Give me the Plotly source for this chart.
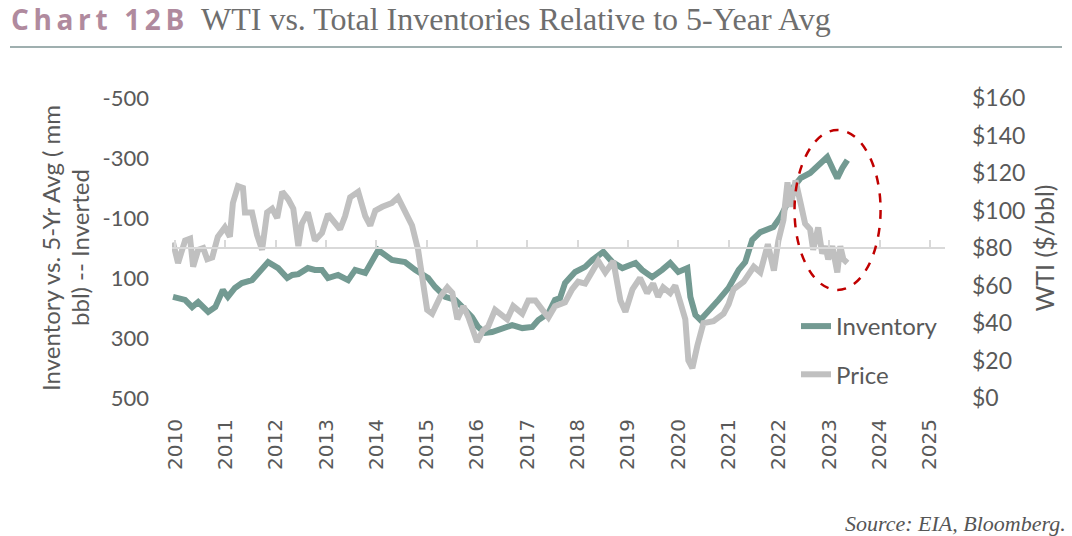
import plotly.graph_objects as go

# ---- data (decimal years) ----
inv_year = [2009.96, 2010.2, 2010.34, 2010.46, 2010.66, 2010.8, 2010.95, 2011.05, 2011.19, 2011.33,
            2011.53, 2011.73, 2011.85, 2012.05, 2012.23, 2012.33, 2012.45, 2012.64, 2012.78, 2012.92,
            2013.04, 2013.24, 2013.44, 2013.58, 2013.78, 2014.04, 2014.17, 2014.31, 2014.57, 2014.77,
            2015.03, 2015.17, 2015.37, 2015.57, 2015.71, 2015.9, 2016.02, 2016.16, 2016.3, 2016.5,
            2016.7, 2016.9, 2017.1, 2017.22, 2017.42, 2017.55, 2017.65, 2017.75, 2017.95, 2018.15,
            2018.29, 2018.51, 2018.69, 2018.89, 2019.15, 2019.28, 2019.48, 2019.68, 2019.84, 2020.0,
            2020.18, 2020.24, 2020.34, 2020.44, 2020.6, 2020.8, 2021.0, 2021.2, 2021.33, 2021.47,
            2021.63, 2021.89, 2022.03, 2022.17, 2022.29, 2022.43, 2022.62, 2022.76, 2022.88, 2022.96,
            2023.08, 2023.16, 2023.26, 2023.36]
inv_value = [163, 173, 197, 180, 213, 197, 140, 163, 133, 117,
             107, 73, 47, 67, 100, 90, 87, 67, 73, 73,
             100, 90, 107, 73, 83, 7, 23, 40, 47, 73,
             100, 130, 163, 173, 197, 230, 263, 283, 280, 267,
             257, 267, 263, 240, 217, 173, 167, 117, 80, 63,
             40, 13, 47, 67, 50, 73, 97, 73, 50, 80,
             67, 163, 223, 240, 207, 173, 133, 73, 47, -27,
             -53, -70, -103, -150, -203, -233, -250, -270, -287, -303,
             -260, -233, -267, -293]

price_year = [2009.96, 2010.06, 2010.2, 2010.3, 2010.36, 2010.46, 2010.56, 2010.64, 2010.74, 2010.85,
              2010.99, 2011.09, 2011.15, 2011.25, 2011.35, 2011.39, 2011.53, 2011.63, 2011.73, 2011.83,
              2011.93, 2012.03, 2012.13, 2012.25, 2012.35, 2012.45, 2012.52, 2012.64, 2012.78, 2012.92,
              2013.04, 2013.18, 2013.28, 2013.38, 2013.48, 2013.64, 2013.78, 2013.88, 2013.98, 2014.12,
              2014.31, 2014.43, 2014.57, 2014.71, 2014.83, 2014.93, 2015.01, 2015.11, 2015.27, 2015.41,
              2015.51, 2015.61, 2015.73, 2015.83, 2016.0, 2016.12, 2016.22, 2016.36, 2016.5, 2016.6,
              2016.72, 2016.9, 2017.02, 2017.16, 2017.3, 2017.42, 2017.55, 2017.65, 2017.75, 2017.89,
              2018.01, 2018.15, 2018.29, 2018.41, 2018.55, 2018.71, 2018.85, 2018.95, 2019.09, 2019.24,
              2019.38, 2019.5, 2019.6, 2019.7, 2019.84, 2019.94, 2020.04, 2020.14, 2020.2, 2020.28,
              2020.38, 2020.5, 2020.7, 2020.9, 2021.0, 2021.1, 2021.3, 2021.5, 2021.63, 2021.78,
              2021.9, 2021.99, 2022.09, 2022.17, 2022.23, 2022.33, 2022.43, 2022.52, 2022.62, 2022.68,
              2022.78, 2022.86, 2022.92, 2022.98, 2023.06, 2023.16, 2023.22, 2023.28, 2023.36]
price_value = [83, 72, 84, 85, 70, 79, 80, 74, 75, 86,
               91, 86, 104, 113, 112, 99, 99, 87, 79, 99,
               101, 96, 110, 106, 101, 81, 93, 99, 84, 88,
               98, 93, 90, 97, 107, 110, 97, 92, 100, 102,
               104, 107, 99, 92, 79, 59, 47, 45, 54, 59,
               56, 42, 49, 43, 30, 36, 38, 47, 44, 42,
               49, 45, 52, 52, 47, 43, 49, 50, 51, 58,
               62, 61, 67, 73, 67, 73, 52, 46, 58, 64,
               56, 61, 54, 59, 56, 60, 51, 42, 20, 16,
               28, 40, 41, 45, 50, 58, 62, 70, 67, 82,
               68, 84, 95, 115, 102, 116, 104, 93, 90, 79,
               91, 77, 81, 74, 81, 67, 81, 74, 72]

year_ticks = list(range(2010, 2026))
inv_ticks = [-500, -300, -100, 100, 300, 500]
price_ticks = [0, 20, 40, 60, 80, 100, 120, 140, 160]

GREEN = "#739a92"
GRAY = "#c0c0c0"
TXT = "#595959"

fig = go.Figure()
fig.add_trace(go.Scatter(x=inv_year, y=inv_value, name="Inventory", mode="lines",
                         line=dict(color=GREEN, width=6), legendgroup="a", yaxis="y"))
fig.add_trace(go.Scatter(x=price_year, y=price_value, name="Price", mode="lines",
                         line=dict(color=GRAY, width=6), legendgroup="b", yaxis="y2"))

L, R, T, B = 172, 127, 98, 138
PW, PH = 1072 - L - R, 536 - T - B


def px(x):
    return (x - L) / PW


def py(y):
    return (536 - B - y) / PH


fig.update_layout(
    width=1072, height=536,
    margin=dict(l=L, r=R, t=T, b=B, autoexpand=False),
    paper_bgcolor="white", plot_bgcolor="white",
    showlegend=True,
    legend=dict(x=px(796), y=py(304), xanchor="left", yanchor="top",
                font=dict(family="Lato", size=24, color=TXT),
                tracegroupgap=14, bgcolor="rgba(0,0,0,0)"),
    xaxis=dict(range=[2009.94, 2025.3], tickvals=year_ticks, ticktext=[str(y) for y in year_ticks],
               tickangle=-90, showgrid=False, zeroline=False, showline=False, ticks="",
               ticklabelstandoff=16,
               tickfont=dict(family="DejaVu Sans", size=20, color=TXT), automargin=False),
    xaxis2=dict(matches="x", overlaying="x", anchor="free", position=0.5, side="top",
                tickvals=year_ticks, showticklabels=False, ticks="outside", ticklen=7,
                tickwidth=2, tickcolor="#d9d9d9", showline=True, linecolor="#d9d9d9",
                linewidth=2, showgrid=False, zeroline=False),
    yaxis=dict(range=[500, -500], tickvals=inv_ticks, ticktext=[str(v) for v in inv_ticks],
               showgrid=False, zeroline=False, showline=False, ticks="",
               ticklabelstandoff=22,
               tickfont=dict(family="Lato", size=22, color=TXT),
               automargin=False),
    yaxis2=dict(range=[0, 160], overlaying="y", side="right", tickvals=price_ticks,
                ticktext=["$" + str(v) for v in price_ticks],
                showgrid=False, zeroline=False, showline=False, ticks="",
                ticklabelstandoff=26,
                tickfont=dict(family="Lato", size=23, color=TXT),
                title=dict(text="WTI ($/bbl)", font=dict(family="Lato", size=25, color=TXT),
                           standoff=12),
                automargin=False),
)

# a dummy trace so xaxis2 is rendered
fig.add_trace(go.Scatter(x=[year_ticks[0]], y=[0], xaxis="x2", yaxis="y", mode="markers",
                         marker=dict(opacity=0), showlegend=False, hoverinfo="skip"))

# left axis title (two tightly spaced lines)
for txt, xc in [("Inventory vs. 5-Yr Avg ( mm", 50), ("bbl) -- Inverted", 79)]:
    fig.add_annotation(xref="paper", yref="paper", x=px(xc), y=py(248),
                       xanchor="center", yanchor="middle", showarrow=False, textangle=-90,
                       text=txt, font=dict(family="Lato", size=24, color=TXT))

# title
fig.add_annotation(xref="paper", yref="paper", x=px(9), y=py(19),
                   xanchor="left", yanchor="middle", showarrow=False,
                   text="<b>C\u2009h\u2009a\u2009r\u2009t\u2009 \u20091\u20092\u2009B</b>",
                   font=dict(family="Open Sans", size=28, color="#b08a9e"))
fig.add_annotation(xref="paper", yref="paper", x=px(199), y=py(19),
                   xanchor="left", yanchor="middle", showarrow=False,
                   text="WTI vs. Total Inventories Relative to 5-Year Avg",
                   font=dict(family="Liberation Serif", size=32, color="#6e6e6e"))
fig.add_shape(type="line", xref="paper", yref="paper",
              x0=px(10), x1=px(1062), y0=py(47), y1=py(47),
              line=dict(color="#7f9494", width=1.5))
# source
fig.add_annotation(xref="paper", yref="paper", x=px(1068), y=py(523),
                   xanchor="right", yanchor="middle", showarrow=False,
                   text="<i>Source: EIA, Bloomberg.</i>",
                   font=dict(family="Liberation Serif", size=22, color="#555555"))
# highlight ellipse
fig.add_shape(type="circle", xref="x", yref="paper", x0=2022.31, x1=2024.02,
              y0=py(290), y1=py(130),
              line=dict(color="#c00000", width=2.5, dash="dash"))

fig.write_html("out.html", config={"displayModeBar": False},
               post_script="document.body.style.margin='0';")
